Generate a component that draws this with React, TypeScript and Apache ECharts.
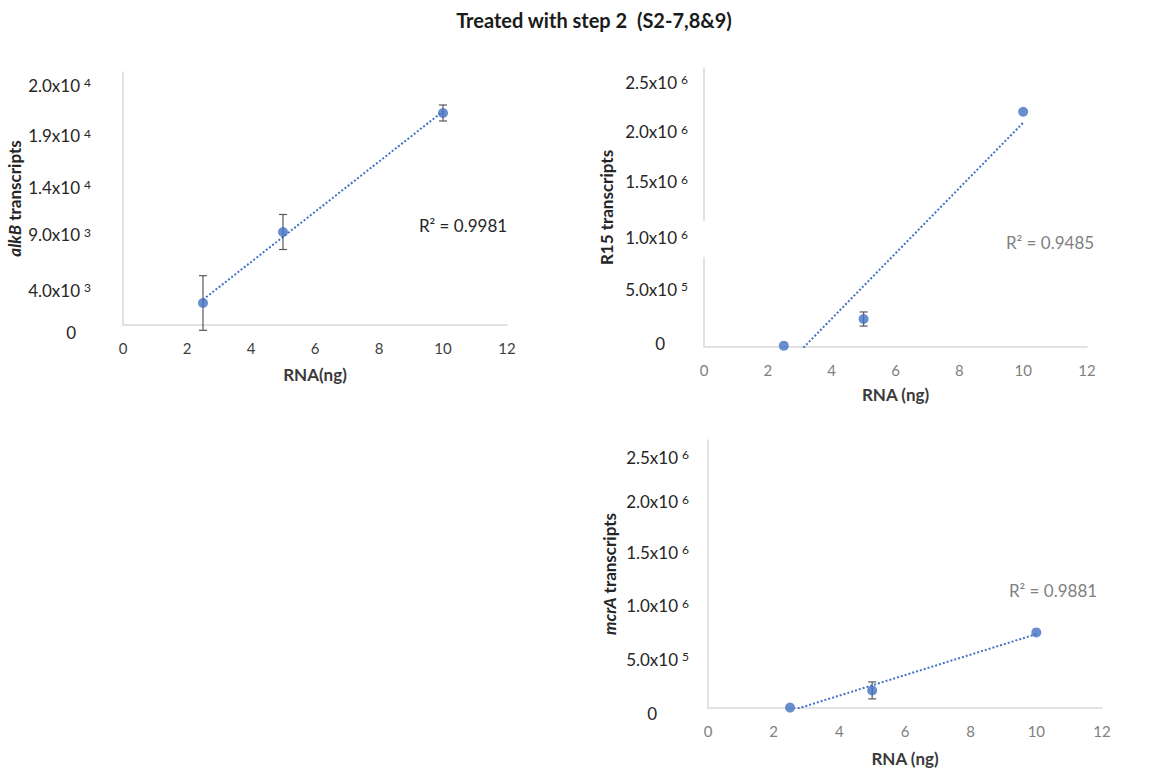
import React, { useEffect, useRef } from 'react';
import * as echarts from 'echarts';

// ---- data ----
const rnaNg = [2.5, 5, 10];
const alkbValues = [2174, 9190, 20949];
const alkbErrors = [2700, 1730, 790];
const r15Values = [12000, 251000, 2108000];
const r15Errors = [0, 63000, 0];
const mcraValues = [4000, 164000, 705000];
const mcraErrors = [0, 79000, 0];
const xTickStep = 2;
const alkbTickStep = 5000;
const millionTickStep = 500000;
const alkbTickLabels = ['0', '4.0x10^3', '9.0x10^3', '1.4x10^4', '1.9x10^4', '2.0x10^4'];
const millionTickLabels = ['0', '5.0x10^5', '1.0x10^6', '1.5x10^6', '2.0x10^6', '2.5x10^6'];
const r2Labels = ['R\u00B2 = 0.9981', 'R\u00B2 = 0.9485', 'R\u00B2 = 0.9881'];
const chartTitle = 'Treated with step 2  (S2-7,8&9)';

// ---- layout / style (pixel nudges of the pasted tick labels, per tick index) ----
const alkbLabelNudge = [7, 16, 11, 14, 13, 13];
const r15LabelNudge = [-4, -2, 2, 2, 8, 14];
const mcraLabelNudge = [5, 5, 5, 5, 8, 17];

const FONT = 'Lato, "Noto Sans", sans-serif';
const BLUE = '#4472C4';

function regression(xs: number[], ys: number[]) {
  const n = xs.length;
  const mx = xs.reduce((a, b) => a + b, 0) / n;
  const my = ys.reduce((a, b) => a + b, 0) / n;
  let sxy = 0, sxx = 0;
  for (let i = 0; i < n; i++) {
    sxy += (xs[i] - mx) * (ys[i] - my);
    sxx += (xs[i] - mx) * (xs[i] - mx);
  }
  const slope = sxy / sxx;
  const icpt = my - slope * mx;
  const x0 = Math.min(...xs), x1 = Math.max(...xs);
  return [[x0, slope * x0 + icpt], [x1, slope * x1 + icpt]];
}

function yFormatter(labels: string[], step: number) {
  return (v: number) => {
    const i = Math.round(v / step);
    const l = labels[i];
    if (l === undefined) return '';
    if (l === '0') return `{z${i}|0}`;
    const [b, e] = l.split('^');
    return `{m${i}|${b}}{s${i}|${e}}`;
  };
}

function yRich(zeroPad: number, nudges: number[]) {
  const rich: any = {};
  nudges.forEach((d, i) => {
    const pv = d >= 0 ? [2 * d, 0] : [0, -2 * d];
    rich['m' + i] = { fontSize: 17, color: '#262626', fontFamily: FONT, padding: [pv[0], 0, pv[1], 0] };
    rich['s' + i] = { fontSize: 12, color: '#262626', fontFamily: FONT, verticalAlign: 'top', padding: [pv[0], 0, pv[1], 4] };
    rich['z' + i] = { fontSize: 17, color: '#262626', fontFamily: FONT, padding: [pv[0], zeroPad, pv[1], 0] };
  });
  return rich;
}

function errorRender(params: any, api: any) {
  const x = api.value(0), lo = api.value(1), hi = api.value(2);
  const p1 = api.coord([x, hi]);
  const p2 = api.coord([x, lo]);
  const w = 4;
  const style = { stroke: '#595959', lineWidth: 1.2 };
  return {
    type: 'group',
    children: [
      { type: 'line', shape: { x1: p1[0], y1: p1[1], x2: p2[0], y2: p2[1] }, style },
      { type: 'line', shape: { x1: p1[0] - w, y1: p1[1], x2: p1[0] + w, y2: p1[1] }, style },
      { type: 'line', shape: { x1: p2[0] - w, y1: p2[1], x2: p2[0] + w, y2: p2[1] }, style },
    ],
  };
}

function seriesFor(idx: number, vals: number[], errs: number[]) {
  const pts = rnaNg.map((x, i) => [x, vals[i]]);
  const errData = rnaNg
    .map((x, i) => [x, vals[i] - errs[i], vals[i] + errs[i], errs[i]])
    .filter((d) => d[3] > 0)
    .map((d) => [d[0], d[1], d[2]]);
  return [
    {
      type: 'line',
      xAxisIndex: idx,
      yAxisIndex: idx,
      data: regression(rnaNg, vals),
      symbol: 'none',
      clip: true,
      lineStyle: { color: BLUE, width: 2, type: [2, 2] },
      z: 2,
      silent: true,
    },
    {
      type: 'custom',
      xAxisIndex: idx,
      yAxisIndex: idx,
      data: errData,
      encode: { x: 0, y: [1, 2] },
      renderItem: errorRender,
      clip: false,
      z: 3,
      silent: true,
    },
    {
      type: 'scatter',
      xAxisIndex: idx,
      yAxisIndex: idx,
      data: pts,
      symbolSize: 10,
      itemStyle: { color: BLUE },
      z: 4,
    },
  ];
}

function xAxisFor(idx: number, name: string, labelColor: string, nameGap: number) {
  return {
    type: 'value',
    gridIndex: idx,
    min: 0,
    max: 12,
    interval: xTickStep,
    axisLine: { show: true, lineStyle: { color: '#d9d9d9', width: 1.5 } },
    axisTick: { show: false },
    splitLine: { show: false },
    axisLabel: { color: labelColor, fontSize: 15, fontFamily: FONT, margin: 15 },
    name,
    nameLocation: 'middle',
    nameGap,
    nameTextStyle: { color: '#3a3a3a', fontSize: 17, fontWeight: 'bold', fontFamily: FONT },
  };
}

function yAxisFor(idx: number, max: number, step: number, labels: string[], margin: number, zeroPad: number, nudges: number[], name: string, nameGap: number) {
  return {
    type: 'value',
    gridIndex: idx,
    min: 0,
    max,
    interval: step,
    axisLine: { show: true, lineStyle: { color: '#d9d9d9', width: 1.5 } },
    axisTick: { show: false },
    splitLine: { show: false },
    axisLabel: {
      formatter: yFormatter(labels, step),
      rich: yRich(zeroPad, nudges),
      margin,
    },
    name,
    nameLocation: 'middle',
    nameRotate: 90,
    nameGap,
    nameTextStyle: {
      color: '#262626',
      fontSize: 17,
      fontWeight: 'bold',
      fontFamily: FONT,
      rich: {
        i: { fontStyle: 'italic', fontWeight: 'bold', fontSize: 17, fontFamily: FONT, color: '#262626' },
        b: { fontWeight: 'bold', fontSize: 17, fontFamily: FONT, color: '#262626' },
      },
    },
  };
}

export default function App() {
  const ref = useRef<HTMLDivElement>(null);
  useEffect(() => {
    if (!ref.current) return;
    const chart = echarts.init(ref.current, undefined, { renderer: 'svg' });
    const option: any = {
      animation: false,
      backgroundColor: '#ffffff',
      grid: [
        { left: 123, top: 72, width: 384, height: 253 },
        { left: 704, top: 68, width: 383, height: 279 },
        { left: 708, top: 440, width: 394, height: 268 },
      ],
      xAxis: [
        xAxisFor(0, 'RNA(ng)', '#404040', 41),
        xAxisFor(1, 'RNA (ng)', '#808080', 39),
        xAxisFor(2, 'RNA (ng)', '#808080', 42),
      ],
      yAxis: [
        yAxisFor(0, 25000, alkbTickStep, alkbTickLabels, 32, 15, alkbLabelNudge, '{i|alkB} {b|transcripts}', 100),
        yAxisFor(1, 2500000, millionTickStep, millionTickLabels, 16, 23, r15LabelNudge, 'R15 transcripts', 89),
        yAxisFor(2, 2500000, millionTickStep, millionTickLabels, 19, 32, mcraLabelNudge, '{i|mcrA} {b|transcripts}', 90),
      ],
      series: [
        ...seriesFor(0, alkbValues, alkbErrors),
        ...seriesFor(1, r15Values, r15Errors),
        ...seriesFor(2, mcraValues, mcraErrors),
      ],
      graphic: [
        {
          type: 'text',
          x: 594,
          y: 20,
          style: { text: chartTitle, fontSize: 20, fontWeight: 'bold', fontFamily: FONT, fill: '#1a1a1a', textAlign: 'center', textVerticalAlign: 'middle' },
        },
        {
          type: 'text', x: 463, y: 225,
          style: { text: r2Labels[0], fontSize: 17, fontFamily: FONT, fill: '#262626', textAlign: 'center', textVerticalAlign: 'middle' },
        },
        {
          type: 'text', x: 1050, y: 242,
          style: { text: r2Labels[1], fontSize: 17, fontFamily: FONT, fill: '#7f7f7f', textAlign: 'center', textVerticalAlign: 'middle' },
        },
        {
          type: 'text', x: 1053, y: 590,
          style: { text: r2Labels[2], fontSize: 17, fontFamily: FONT, fill: '#7f7f7f', textAlign: 'center', textVerticalAlign: 'middle' },
        },
        {
          type: 'rect', shape: { x: 701, y: 221, width: 7, height: 36 },
          style: { fill: '#ffffff' }, z: 100,
        },
      ],
    };
    chart.setOption(option);
    return () => chart.dispose();
  }, []);
  return <div ref={ref} style={{ position: 'fixed', left: 0, top: 0, width: 1149, height: 769 }} />;
}
